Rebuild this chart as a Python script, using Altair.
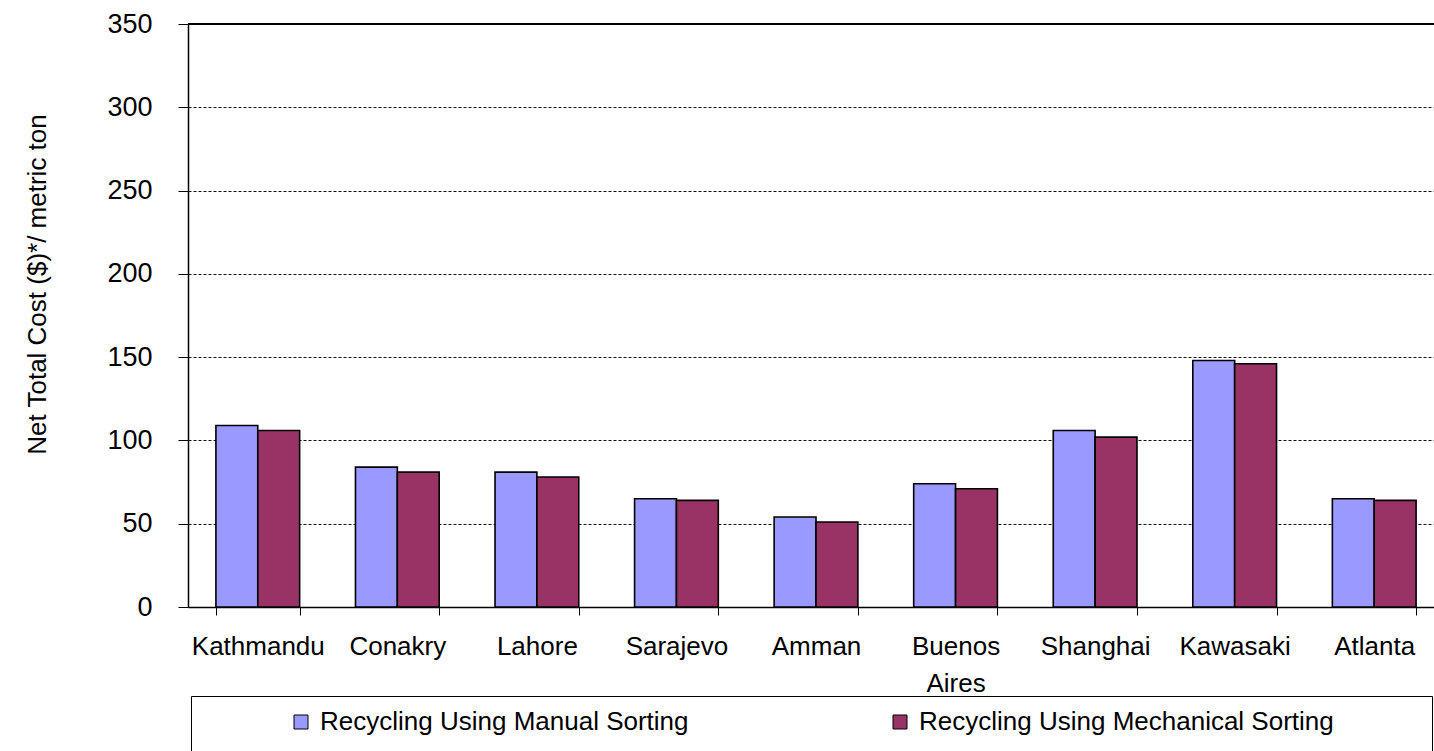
import altair as alt
import pandas as pd

FONT = "Liberation Sans"

cities = ["Kathmandu", "Conakry", "Lahore", "Sarajevo", "Amman",
          "Buenos Aires", "Shanghai", "Kawasaki", "Atlanta"]
manual = [109, 84, 81, 65, 54, 74, 106, 148, 65]
mechanical = [106, 81, 78, 64, 51, 71, 102, 146, 64]
series = ["Recycling Using Manual Sorting", "Recycling Using Mechanical Sorting"]
colors = ["#9999FF", "#993366"]
y_ticks = [0, 50, 100, 150, 200, 250, 300, 350]
y_title = "Net Total Cost ($)*/ metric ton"

rows = []
for c, m, k in zip(cities, manual, mechanical):
    rows.append({"city": c, "series": series[0], "value": m})
    rows.append({"city": c, "series": series[1], "value": k})
df = pd.DataFrame(rows)

NBSP = "\u00a0"

bars = alt.Chart(df).mark_bar(stroke="black", strokeWidth=1.6).encode(
    x=alt.X(
        "city:N",
        sort=cities,
        scale=alt.Scale(paddingInner=0.4, paddingOuter=0.2, range=[0, 1256]),
        axis=alt.Axis(
            title=None, tickBand="extent", ticks=True, tickSize=8, tickColor="black",
            tickWidth=1, domainColor="black", domainWidth=1.5, labelFont=FONT,
            labelFontSize=26, labelColor="black", labelPadding=18, labelAngle=0,
            labelExpr="split(datum.label, ' ')", labelLineHeight=37, grid=False,
            labelLimit=400,
        ),
    ),
    xOffset=alt.XOffset("series:N", sort=series,
                        scale=alt.Scale(paddingInner=0, paddingOuter=0)),
    y=alt.Y(
        "value:Q",
        scale=alt.Scale(domain=[0, 350], nice=False),
        axis=alt.Axis(
            values=y_ticks, grid=True, gridColor="#111111", gridDash=[3, 2], gridWidth=1,
            domainColor="black", domainWidth=1.5, tickColor="black", tickSize=10,
            tickWidth=1, labelFont=FONT, labelFontSize=27, labelPadding=26,
            labelColor="black", title=y_title, titleFont=FONT, titleFontSize=26,
            titleFontWeight="normal", titleColor="black", titleAngle=270,
            titleX=-143, titleY=260, titleAlign="center", titleBaseline="alphabetic",
        ),
    ),
    color=alt.Color(
        "series:N",
        sort=series,
        scale=alt.Scale(domain=series, range=colors),
        title=NBSP,
        legend=alt.Legend(
            orient="none", legendX=3, legendY=672, direction="horizontal",
            titleOrient="right", titleFontSize=80, titlePadding=85, titleAnchor="start",
            titleBaseline="top", titleFont=FONT,
            labelFont=FONT, labelFontSize=26, labelColor="black",
            symbolOffset=84, labelOffset=6,
            labelLimit=1000,
            symbolType="square", symbolSize=196, symbolStrokeColor="black",
            symbolStrokeWidth=1, symbolOpacity=1, columnPadding=114, padding=13,
            strokeColor="black", fillColor="white", clipHeight=26,
        ),
    ),
)

top_line = alt.Chart(df).mark_rule(color="black", strokeWidth=1.5).encode(
    y=alt.datum(350)
)

chart = alt.layer(bars, top_line).properties(
    width=1246,
    height=583,
    padding={"left": 188, "top": 24, "right": 0, "bottom": 144},
    autosize=alt.AutoSizeParams(type="none"),
).configure_view(stroke=None)

chart.save("out.html", embed_options={"renderer": "svg", "actions": False})
